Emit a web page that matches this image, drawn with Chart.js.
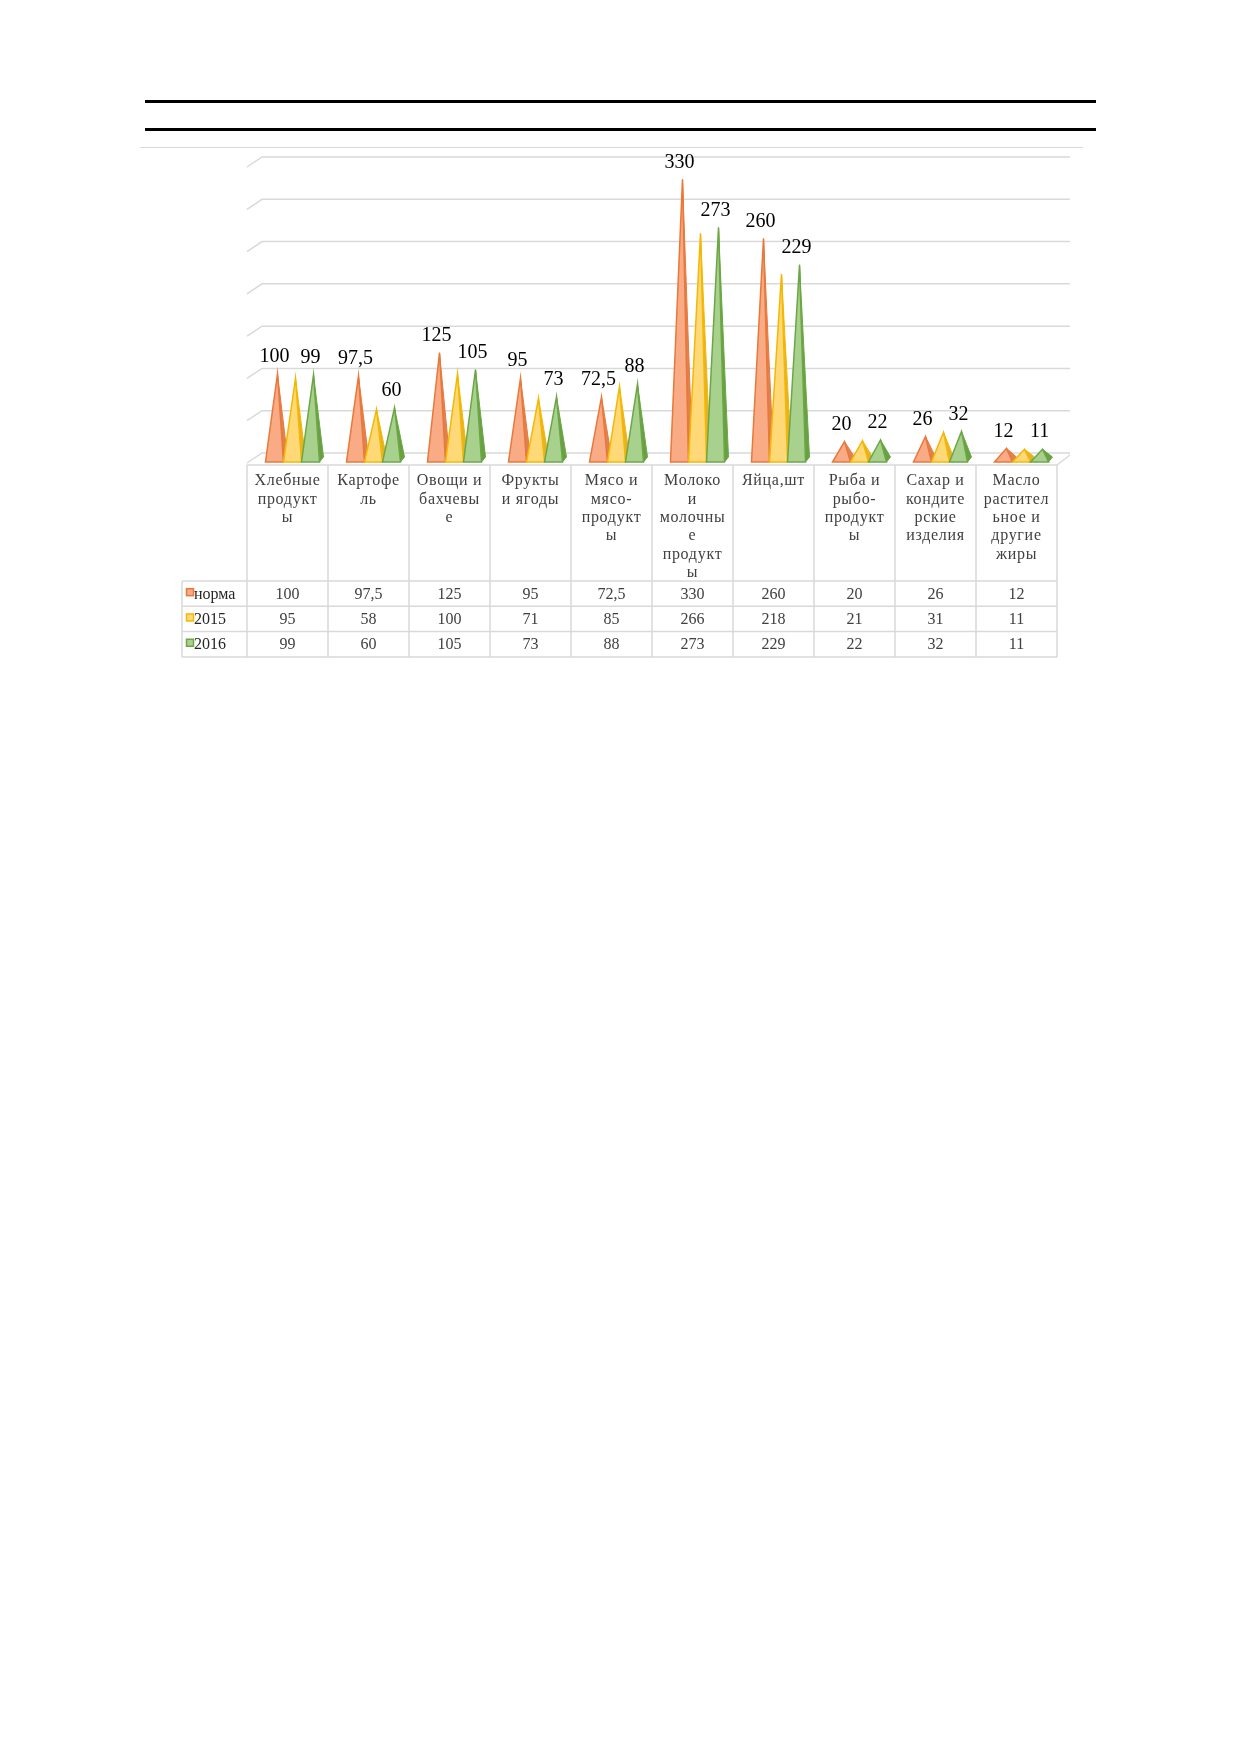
<!DOCTYPE html>
<html>
<head>
<meta charset="utf-8">
<script src="https://cdn.jsdelivr.net/npm/chart.js@4.4.1/dist/chart.umd.min.js"></script>
<style>
  body { margin: 0; background: #fff; }
  .rule { position: absolute; background: #000; }
  #wrap { position: absolute; left: 0; top: 0; width: 1239px; height: 700px; }
</style>
</head>
<body>
<div class="rule" style="left:145px; top:100px; width:951px; height:3px;"></div>
<div class="rule" style="left:145px; top:128px; width:951px; height:3px;"></div>
<div class="rule" style="left:140px; top:147px; width:943px; height:1px; background:#d9d9d9;"></div>
<div id="wrap"><canvas id="chart"></canvas></div>
<script>
// categories (line breaks as in the table header)
const categories = [
    ['Хлебные', 'продукт', 'ы'],
    ['Картофе', 'ль'],
    ['Овощи и', 'бахчевы', 'е'],
    ['Фрукты', 'и ягоды'],
    ['Мясо и', 'мясо-', 'продукт', 'ы'],
    ['Молоко', 'и', 'молочны', 'е', 'продукт', 'ы'],
    ['Яйца,шт'],
    ['Рыба и', 'рыбо-', 'продукт', 'ы'],
    ['Сахар и', 'кондите', 'рские', 'изделия'],
    ['Масло', 'растител', 'ьное и', 'другие', 'жиры']
];
const seriesNames = ['норма', '2015', '2016'];
const norma = [100, 97.5, 125, 95, 72.5, 330, 260, 20, 26, 12];
const y2015 = [95, 58, 100, 71, 85, 266, 218, 21, 31, 11];
const y2016 = [99, 60, 105, 73, 88, 273, 229, 22, 32, 11];

// face colours: light front, edge, darker side
const colors = [
    { light: '#F8AB84', edge: '#E9783A', side: '#DE8350' },
    { light: '#FFD877', edge: '#F5B800', side: '#E2B22C' },
    { light: '#A9D18E', edge: '#6CA745', side: '#68A042' }
];
const showLabels = [true, false, true];
const fmt = v => String(v).replace('.', ',');

//3d grid walls
const gridPlugin = {
    id: 'grid3d',
    beforeDatasetsDraw(chart) {
        const ctx = chart.ctx, y = chart.scales.y, a = chart.chartArea;
        ctx.save();
        ctx.strokeStyle = '#d9d9d9';
        ctx.lineWidth = 1.5;
        y.ticks.forEach(t => {
            const py = y.getPixelForValue(t.value);
            ctx.beginPath();
            ctx.moveTo(a.left, py);
            ctx.lineTo(a.left + 15, py - 10);
            ctx.lineTo(a.right + 13, py - 10);
            ctx.stroke();
        });
        ctx.restore();
    }
};

//pyramids drawn on top of the (invisible) bars
const pyramidPlugin = {
    id: 'pyramids',
    afterDatasetsDraw(chart) {
        const ctx = chart.ctx;
        ctx.save();
        chart.data.datasets.forEach((ds, di) => {
            const c = colors[di];
            chart.getDatasetMeta(di).data.forEach((bar, i) => {
                const p = bar.getProps(['x', 'y', 'base', 'width'], true);
                const cx = p.x + 5, hw = p.width / 2;
                const L = cx - hw, R = cx + hw, B = p.base - 1;
                const ax = cx + 3, ay = p.y - 4.5;
                // side face
                ctx.beginPath();
                ctx.moveTo(R, B);
                ctx.lineTo(R + 4, B - 5);
                ctx.lineTo(ax, ay);
                ctx.closePath();
                ctx.fillStyle = c.side;
                ctx.fill();
                ctx.lineWidth = 1;
                ctx.strokeStyle = c.edge;
                ctx.stroke();
                // front face
                ctx.beginPath();
                ctx.moveTo(L, B);
                ctx.lineTo(R, B);
                ctx.lineTo(ax, ay);
                ctx.closePath();
                ctx.fillStyle = c.light;
                ctx.fill();
                ctx.lineWidth = 1.5;
                ctx.strokeStyle = c.edge;
                ctx.stroke();
                if (showLabels[di]) {
                    ctx.fillStyle = '#000';
                    ctx.font = '20px "Liberation Serif"';
                    ctx.textAlign = 'center';
                    ctx.textBaseline = 'middle';
                    ctx.fillText(fmt(ds.data[i]), ax - 3, ay - 17);
                }
            });
        });
        ctx.restore();
    }
};

//data table under the plot
const tablePlugin = {
    id: 'dataTable',
    afterDraw(chart) {
        const ctx = chart.ctx, x = chart.scales.x, a = chart.chartArea;
        const colW = (a.right - a.left) / categories.length;
        const top = 465, rowTop = 581, rowH = 25.3, legLeft = 182;
        const bottom = rowTop + rowH * 3;
        ctx.save();
        ctx.strokeStyle = '#d9d9d9';
        ctx.lineWidth = 1.5;
        ctx.beginPath();
        // floor front edge
        ctx.moveTo(a.left, top); ctx.lineTo(a.right, top);
        ctx.moveTo(a.right, top); ctx.lineTo(a.right + 13, top - 10);
        for (let k = 0; k <= categories.length; k++) {
            const px = a.left + k * colW;
            ctx.moveTo(px, top); ctx.lineTo(px, bottom);
        }
        ctx.moveTo(legLeft, rowTop); ctx.lineTo(legLeft, bottom);
        for (let r = 0; r <= 3; r++) {
            const py = rowTop + r * rowH;
            ctx.moveTo(legLeft, py); ctx.lineTo(a.right, py);
        }
        ctx.stroke();

        ctx.fillStyle = '#404040';
        ctx.font = '16px "Liberation Serif"';
        ctx.textAlign = 'center';
        ctx.textBaseline = 'middle';
        ctx.letterSpacing = '0.7px';
        categories.forEach((lines, i) => {
            const px = x.getPixelForValue(i);
            lines.forEach((s, k) => ctx.fillText(s, px, 481 + k * 18.4));
        });
        ctx.letterSpacing = '0px';
        const rows = [norma, y2015, y2016];
        rows.forEach((vals, r) => {
            const py = rowTop + r * rowH + rowH / 2;
            vals.forEach((v, i) => {
                ctx.fillStyle = '#404040';
                ctx.textAlign = 'center';
                ctx.fillText(fmt(v), x.getPixelForValue(i), py + 1);
            });
            // legend key
            ctx.fillStyle = colors[r].light;
            ctx.fillRect(186.5, py - 5, 7, 7);
            ctx.strokeStyle = colors[r].edge;
            ctx.lineWidth = 1.5;
            ctx.strokeRect(186.5, py - 5, 7, 7);
            ctx.fillStyle = '#262626';
            ctx.textAlign = 'left';
            ctx.fillText(seriesNames[r], 194, py + 1);
        });
        ctx.restore();
    }
};

const data = {
    labels: categories.map(c => c.join(' ')),
    datasets: [norma, y2015, y2016].map((vals, i) => ({
        label: seriesNames[i],
        data: vals,
        backgroundColor: 'rgba(0,0,0,0)',
        borderWidth: 0,
        categoryPercentage: 0.667,
        barPercentage: 1
    }))
};

const config = {
    type: 'bar',
    data: data,
    options: {
        responsive: true,
        maintainAspectRatio: false,
        animation: false,
        layout: { padding: { left: 247, right: 182, top: 167, bottom: 237 } },
        plugins: { legend: { display: false }, tooltip: { enabled: false } },
        scales: {
            x: { display: false, offset: true },
            y: { display: false, min: 0, max: 350, ticks: { stepSize: 50 } }
        }
    },
    plugins: [gridPlugin, pyramidPlugin, tablePlugin]
};

const myChart = new Chart(document.getElementById('chart'), config);
</script>
</body>
</html>
